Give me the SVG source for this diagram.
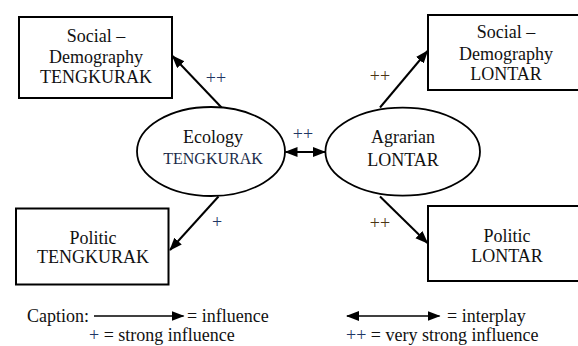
<svg xmlns="http://www.w3.org/2000/svg" width="578" height="346" viewBox="0 0 578 346" font-family="'Liberation Serif', 'Times New Roman', serif">
<defs>
<marker id="ah" markerUnits="userSpaceOnUse" markerWidth="14" markerHeight="12" refX="12" refY="5" orient="auto-start-reverse"><path d="M0,0 L13,5 L0,10 z" fill="#000"/></marker>
</defs>
<style>
text{font-family:'Liberation Serif','Times New Roman',serif;font-size:18px;fill:#111;text-anchor:middle}
.box{fill:#fff;stroke:#000;stroke-width:2}
.ell{fill:#fff;stroke:#000;stroke-width:1.8}
.arr{stroke:#000;stroke-width:2;fill:none;marker-end:url(#ah)}
.dbl{marker-start:url(#ah)}
.cap{stroke:#000;stroke-width:1.3;fill:none;marker-end:url(#ah)}
text.pb,tspan.pb{fill:#1f3764}
text.pr{fill:#4a3412}
text.sm{font-size:16px;fill:#1a2a48}
text.l{text-anchor:start}
</style>
<g id="connectors">
<line class="arr" x1="222" y1="108" x2="172.5" y2="56"/>
<line class="arr" x1="380" y1="107.5" x2="427.5" y2="51"/>
<line class="arr" x1="218.5" y1="196.5" x2="170" y2="250"/>
<line class="arr" x1="380" y1="196.5" x2="427.5" y2="243"/>
<line class="arr dbl" x1="285.5" y1="152" x2="325" y2="152"/>
<text class="pb" x="216" y="84">++</text>
<text class="pr" x="380" y="82">++</text>
<text class="pb" x="303" y="140">++</text>
<text class="pb" x="217" y="228">+</text>
<text class="pr" x="380" y="229">++</text>
</g>
<g id="social-tengkurak">
<rect class="box" x="19" y="17" width="153" height="81"/>
<text x="96" y="42">Social –</text>
<text x="96" y="63">Demography</text>
<text x="96" y="83">TENGKURAK</text>
</g>
<g id="social-lontar">
<rect class="box" x="428" y="15" width="152" height="75"/>
<text x="506" y="38">Social –</text>
<text x="506" y="60">Demography</text>
<text x="506" y="80">LONTAR</text>
</g>
<g id="ecology-tengkurak">
<ellipse class="ell" cx="211" cy="151.5" rx="74" ry="44.5"/>
<text x="213" y="143">Ecology</text>
<text class="sm" x="213" y="164">TENGKURAK</text>
</g>
<g id="agrarian-lontar">
<ellipse class="ell" cx="402.7" cy="151.7" rx="77.3" ry="44"/>
<text x="403" y="143">Agrarian</text>
<text x="403" y="166">LONTAR</text>
</g>
<g id="politic-tengkurak">
<rect class="box" x="16" y="208.5" width="152.5" height="76"/>
<text x="93" y="244">Politic</text>
<text x="93" y="263">TENGKURAK</text>
</g>
<g id="politic-lontar">
<rect class="box" x="428" y="206" width="152" height="75"/>
<text x="507" y="242">Politic</text>
<text x="507" y="262">LONTAR</text>
</g>
<g id="caption">
<text class="l" x="27" y="322">Caption:</text>
<line class="cap" x1="94" y1="316" x2="183.5" y2="316"/>
<text class="l" x="187" y="322">= influence</text>
<line class="cap dbl" x1="347" y1="316" x2="439.5" y2="316"/>
<text class="l" x="447" y="322">= interplay</text>
<text class="l" x="89" y="341"><tspan class="pb">+</tspan> = strong influence</text>
<text class="l" x="346" y="341"><tspan class="pb">++</tspan> = very strong influence</text>
</g>
</svg>
